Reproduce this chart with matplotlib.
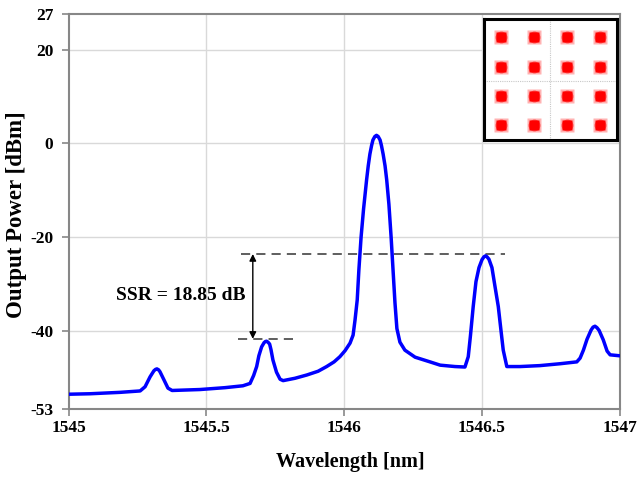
import matplotlib
matplotlib.use("Agg")
import matplotlib.pyplot as plt

# ---------------- data ----------------
wavelength_nm = [
    1545.000, 1545.078, 1545.187, 1545.260, 1545.278, 1545.296, 1545.310, 1545.316,
    1545.321, 1545.327, 1545.332, 1545.347, 1545.361, 1545.376, 1545.477, 1545.568,
    1545.633, 1545.659, 1545.672, 1545.683, 1545.691, 1545.701, 1545.710, 1545.715,
    1545.719, 1545.724, 1545.730, 1545.735, 1545.742, 1545.755, 1545.768, 1545.779,
    1545.822, 1545.865, 1545.906, 1545.937, 1545.964, 1545.985, 1546.004, 1546.022,
    1546.033, 1546.040, 1546.048, 1546.054, 1546.062, 1546.071, 1546.082, 1546.088,
    1546.094, 1546.100, 1546.105, 1546.112, 1546.118, 1546.124, 1546.131, 1546.136,
    1546.142, 1546.149, 1546.155, 1546.163, 1546.171, 1546.178, 1546.185, 1546.192,
    1546.203, 1546.221, 1546.258, 1546.312, 1546.349, 1546.403, 1546.439, 1546.451,
    1546.459, 1546.469, 1546.479, 1546.490, 1546.501, 1546.508, 1546.514, 1546.519,
    1546.526, 1546.537, 1546.548, 1546.560, 1546.570, 1546.578, 1546.591, 1546.639,
    1546.711, 1546.784, 1546.845, 1546.857, 1546.869, 1546.882, 1546.897, 1546.904,
    1546.911, 1546.918, 1546.926, 1546.941, 1546.955, 1546.966, 1547.000,
]
power_dbm = [
    -53.5, -53.4, -53.1, -52.8, -51.9, -49.8, -48.5, -48.2,
    -48.1, -48.3, -48.7, -50.5, -52.2, -52.7, -52.5, -52.1,
    -51.7, -51.2, -49.5, -47.6, -45.3, -43.4, -42.5, -42.25,
    -42.2, -42.4, -42.8, -44.0, -46.2, -48.8, -50.3, -50.6,
    -50.1, -49.4, -48.6, -47.6, -46.6, -45.5, -44.2, -42.6,
    -40.9, -37.7, -33.4, -27.0, -20.0, -14.0, -7.8, -4.8,
    -2.3, -0.5, 0.7, 1.45, 1.7, 1.45, 0.7, -0.5,
    -2.3, -4.8, -7.8, -13.0, -20.0, -27.0, -34.0, -39.5,
    -42.4, -44.1, -45.6, -46.6, -47.3, -47.6, -47.7, -45.5,
    -41.0, -34.8, -29.5, -26.5, -24.8, -24.2, -24.0, -24.2,
    -24.7, -26.5, -30.5, -34.8, -40.0, -44.1, -47.6, -47.6,
    -47.4, -47.0, -46.6, -45.8, -44.1, -41.8, -39.8, -39.2,
    -39.0, -39.3, -39.9, -41.9, -44.3, -45.1, -45.3,
]

x_ticks = [1545, 1545.5, 1546, 1546.5, 1547]
x_tick_labels = ["1545", "1545.5", "1546", "1546.5", "1547"]
y_grid = [-40, -20, 0, 20]
y_tick_labels = ["-53", "-40", "-20", "0", "20", "27"]

# SSR annotation
ssr_upper_db = -23.6
ssr_lower_db = -41.7
ssr_text = "SSR = 18.85 dB"

# 16-QAM constellation (inset) cluster centres
const_i = [-3, -1, 1, 3, -3, -1, 1, 3, -3, -1, 1, 3, -3, -1, 1, 3]
const_q = [3, 3, 3, 3, 1, 1, 1, 1, -1, -1, -1, -1, -3, -3, -3, -3]

# ---------------- figure ----------------
W, H = 638, 478
fig = plt.figure(figsize=(W / 100, H / 100), dpi=100)
serif = ["Liberation Serif", "DejaVu Serif"]

ax_l, ax_r, ax_t, ax_b = 68.5, 619.5, 14, 409
ax = fig.add_axes([ax_l / W, 1 - ax_b / H, (ax_r - ax_l) / W, (ax_b - ax_t) / H])

ymin, ymax = -56.65, 27.57
ax.set_xlim(1545, 1547)
ax.set_ylim(ymin, ymax)

spine_col = "#878787"
for s in ax.spines.values():
    s.set_color(spine_col)
    s.set_linewidth(1.5)

# grid
for g in y_grid:
    ax.axhline(g, color="#d9d9d9", lw=1.0, zorder=0)
for g in x_ticks[1:-1]:
    ax.axvline(g, color="#d9d9d9", lw=1.0, zorder=0)

ax.set_xticks(x_ticks)
ax.set_xticklabels(x_tick_labels)
ax.set_yticks([ymin] + y_grid + [ymax])
ax.set_yticklabels(y_tick_labels)
ax.tick_params(axis="both", direction="out", color=spine_col, width=1.2)
ax.tick_params(axis="x", length=5, pad=3)
ax.tick_params(axis="y", length=5, pad=6)
for lab in ax.get_xticklabels() + ax.get_yticklabels():
    lab.set_fontfamily(serif)
    lab.set_fontweight("bold")
    lab.set_fontsize(12.5)

# spectrum
ax.plot(wavelength_nm, power_dbm, color="#0000ff", lw=2.5, zorder=3,
        solid_joinstyle="round", solid_capstyle="round")

# SSR annotation
ax.plot([1545.625, 1546.584], [ssr_upper_db, ssr_upper_db], color="#333333",
        lw=1.1, ls=(0, (6, 4)), zorder=2)
ax.plot([1545.614, 1545.832], [ssr_lower_db, ssr_lower_db], color="#333333",
        lw=1.1, ls=(0, (6, 4)), zorder=2)
ax.annotate("", xy=(1545.669, ssr_upper_db), xytext=(1545.669, ssr_lower_db),
            arrowprops=dict(arrowstyle="<|-|>", color="black", lw=1.0,
                            mutation_scale=10, shrinkA=0, shrinkB=0))
ax.text(1545.409, -32.35, ssr_text, fontfamily=serif, fontweight="bold",
        fontsize=14, ha="center", va="center")

# axis labels
fig.text(17 / W, 1 - 215 / H, "Output Power [dBm]", rotation=90,
         fontfamily=serif, fontweight="bold", fontsize=16.5,
         ha="center", va="center")
fig.text(350 / W, 1 - 462 / H, "Wavelength [nm]",
         fontfamily=serif, fontweight="bold", fontsize=14.5,
         ha="center", va="center")

# inset constellation
il, ir, it, ib = 484, 616.7, 19.3, 140
iax = fig.add_axes([il / W, 1 - ib / H, (ir - il) / W, (ib - it) / H])
iax.set_xlim(-4, 4)
iax.set_ylim(-3.99, 4.21)
iax.set_xticks([])
iax.set_yticks([])
for s in iax.spines.values():
    s.set_color("black")
    s.set_linewidth(2.2)
iax.axhline(0, color="#c8c8c8", lw=0.8, ls=(0, (1, 1)), zorder=0)
iax.axvline(0, color="#c8c8c8", lw=0.8, ls=(0, (1, 1)), zorder=0)
iax.plot(const_i, const_q, ls="none", marker="s", ms=9.5, color="#ff0000",
         alpha=0.3, mec="none")
iax.plot(const_i, const_q, ls="none", marker="o", ms=8.5, color="#ff0000",
         alpha=0.6, mec="none")
iax.plot(const_i, const_q, ls="none", marker="s", ms=6.5, color="#ff0000",
         mec="none")

fig.savefig("out.png", dpi=100)
